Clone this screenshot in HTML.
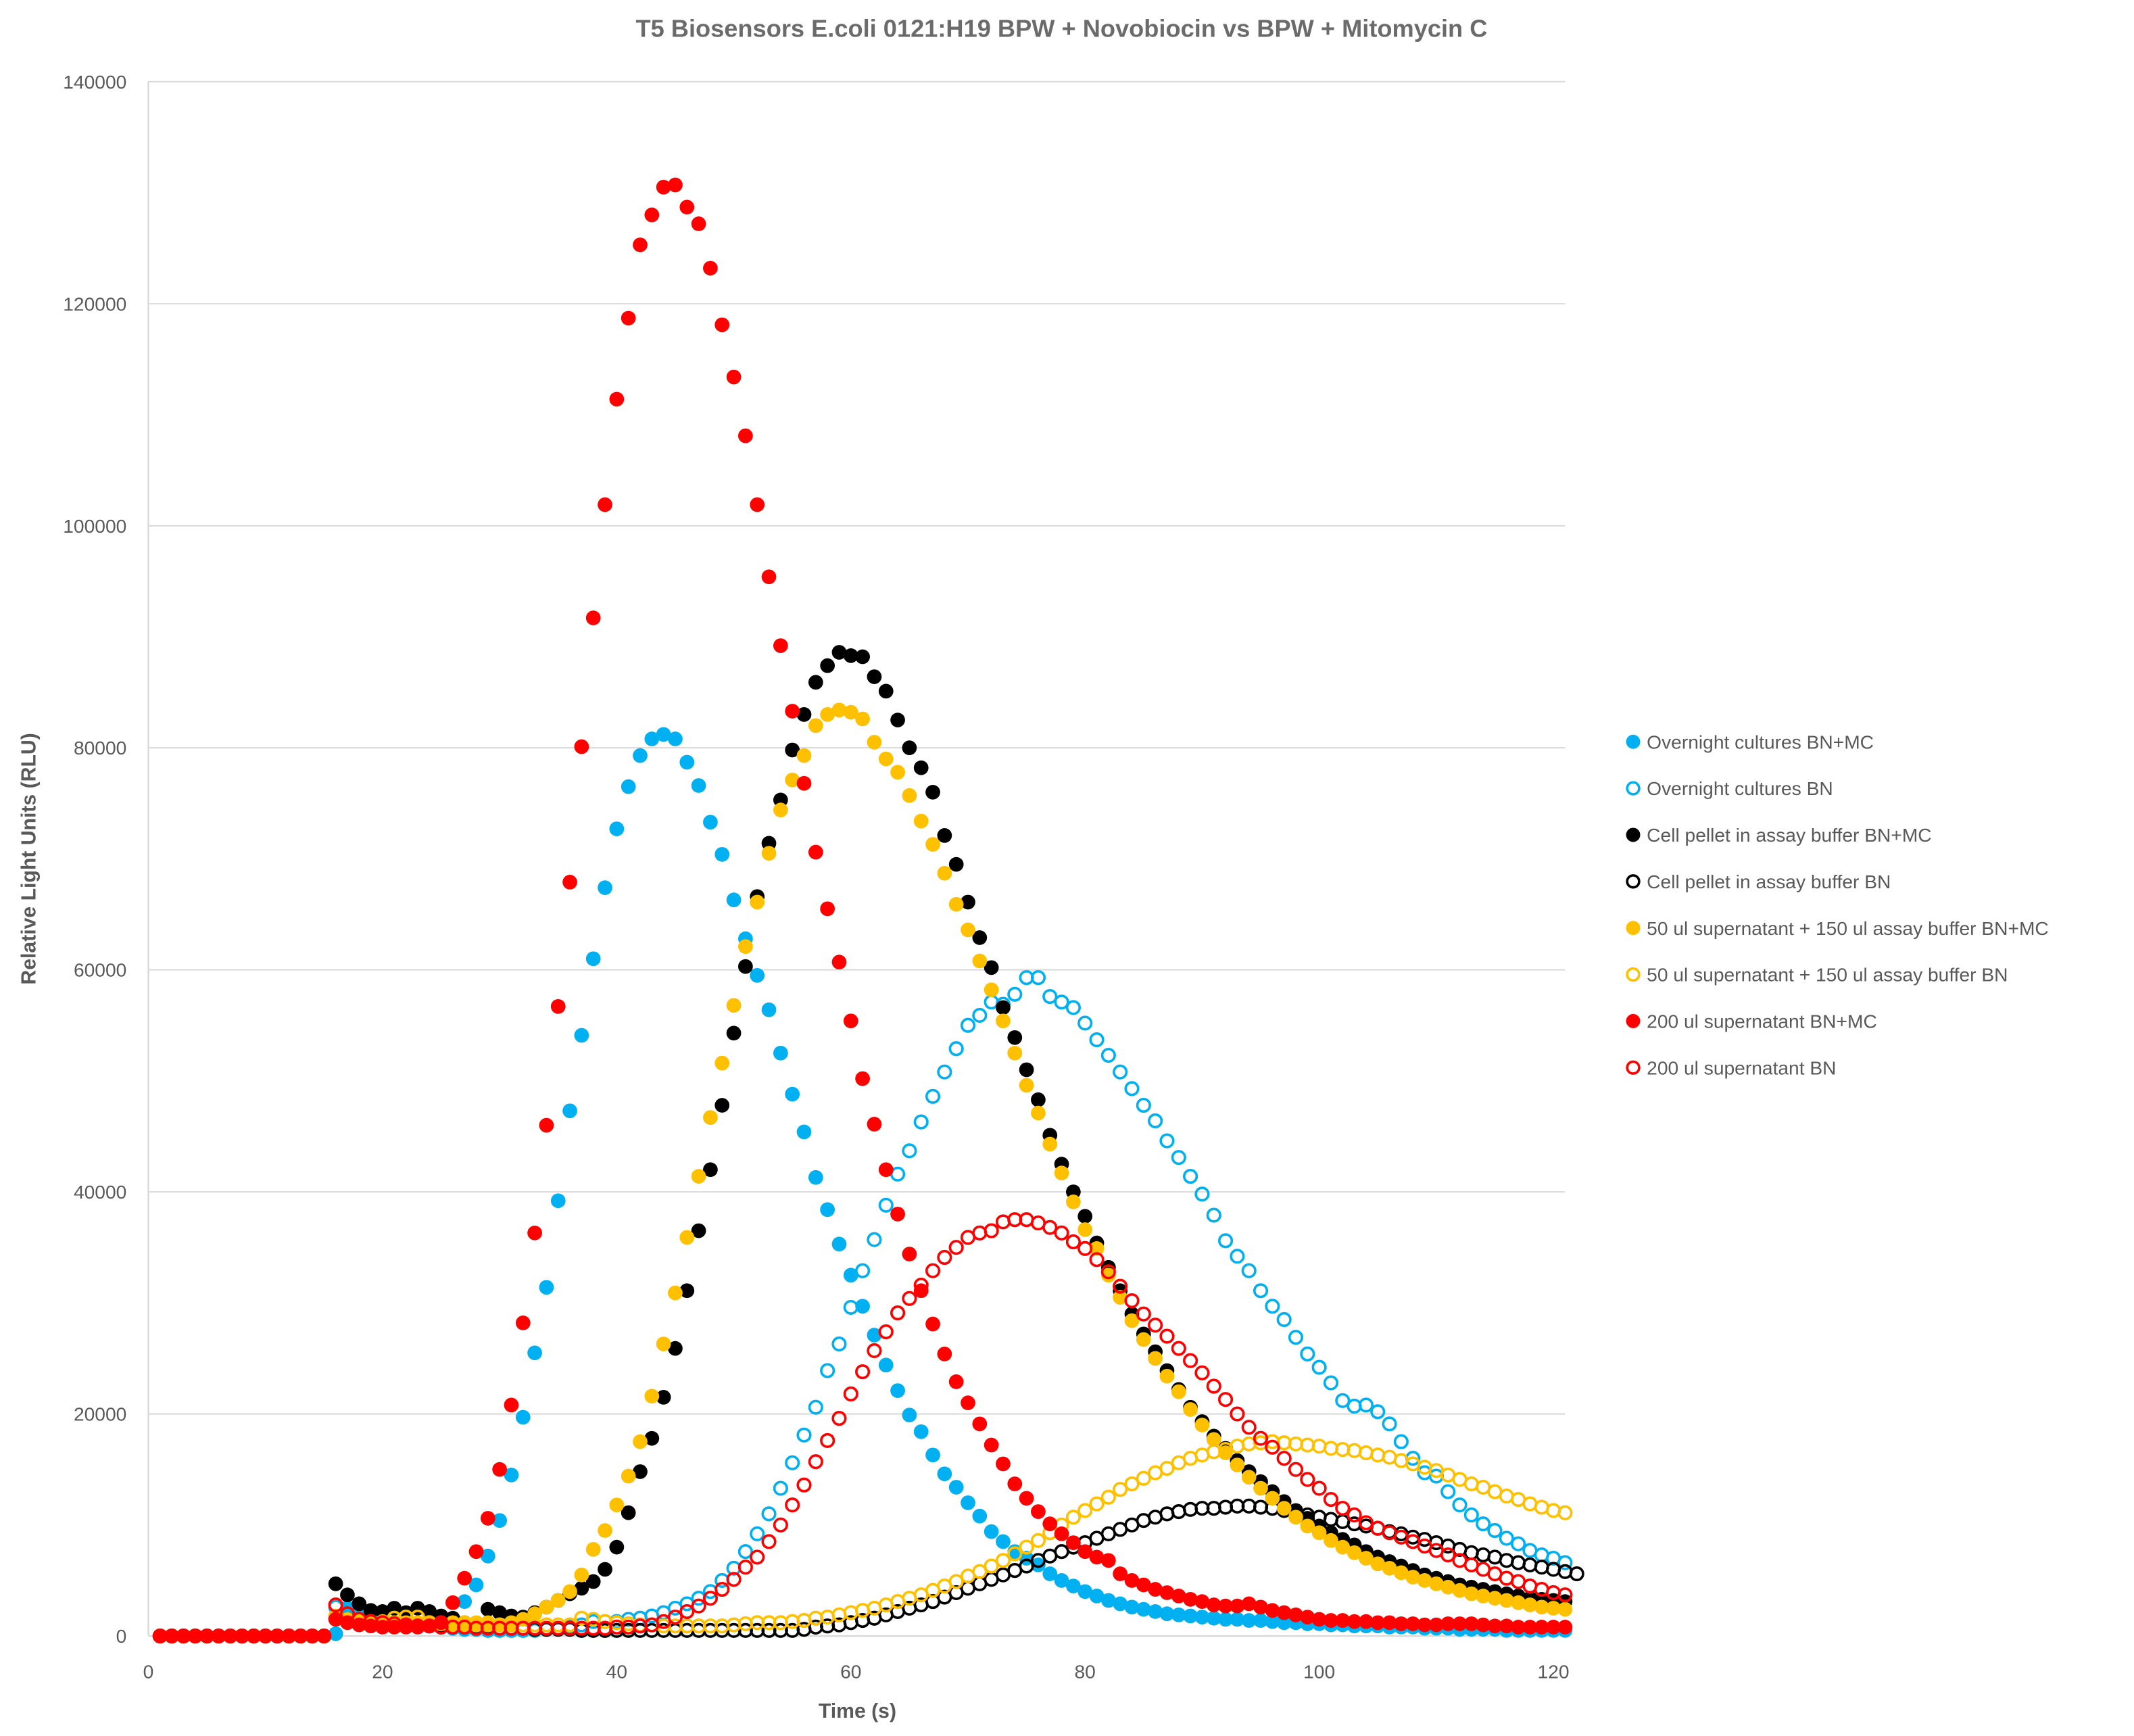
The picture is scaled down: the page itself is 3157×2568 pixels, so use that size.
<!DOCTYPE html>
<html><head><meta charset="utf-8"><style>html,body{margin:0;padding:0;background:#fff}svg{display:block}</style></head>
<body>
<svg id="chart" width="3157" height="2568" viewBox="0 0 1568 1275.5" xmlns="http://www.w3.org/2000/svg" font-family="'Liberation Sans', sans-serif">
<rect width="1568" height="1275.5" fill="#fff"/>
<text x="780" y="27" text-anchor="middle" font-size="18" font-weight="bold" fill="#6b6b6b">T5 Biosensors E.coli 0121:H19 BPW + Novobiocin vs BPW + Mitomycin C</text>
<g id="grid"></g><g id="axes"></g><g id="marks"></g><g id="legend"></g>
<text transform="translate(26,631) rotate(-90)" text-anchor="middle" font-size="15" font-weight="bold" fill="#595959">Relative Light Units (RLU)</text>
<text x="630" y="1262" text-anchor="middle" font-size="15" font-weight="bold" fill="#595959">Time (s)</text>
</svg>
<script>
const yTicks=[0,20000,40000,60000,80000,100000,120000,140000];
const xTicks=[0,20,40,60,80,100,120];
const seriesNames=["Overnight cultures BN+MC","Overnight cultures BN","Cell pellet in assay buffer BN+MC","Cell pellet in assay buffer BN","50 ul supernatant + 150 ul assay buffer BN+MC","50 ul supernatant + 150 ul assay buffer BN","200 ul supernatant BN+MC","200 ul supernatant BN"];
const seriesColors=["#00b0f0","#00b0f0","#000000","#000000","#ffc000","#ffc000","#ff0000","#ff0000"];
const seriesFilled=[true,false,true,false,true,false,true,false];
const Z=[0,0,0,0,0,0,0,0,0,0,0,0,0,0,0];
const blueMC=Z.concat([200,2500,1800,1400,1200,1100,1000,1000,900,900,1500,3100,4600,7200,10400,14500,19700,25500,31400,39200,47300,54100,61000,67400,72700,76500,79300,80800,81200,80800,78700,76600,73300,70400,66300,62800,59500,56400,52500,48800,45400,41300,38400,35300,32500,29700,27100,24400,22100,19900,18400,16300,14600,13400,12000,10800,9400,8500,7600,7000,6400,5600,5000,4500,4000,3600,3200,2900,2600,2400,2200,2000,1900,1800,1700,1600,1500,1500,1400,1400,1300,1200,1200,1100,1100,1000,1000,900,900,900,800,800,800,700,700,700,600,600,600,600,500,500,500,500,500,500]);
const blueBN=Z.concat([2600,1800,1500,1300,1200,1100,1000,900,900,800,700,600,600,500,500,500,500,500,600,700,900,1000,1300,1300,1300,1500,1600,1800,2100,2500,2900,3400,4000,5000,6100,7600,9200,11000,13300,15600,18100,20600,23900,26300,29600,32900,35700,38800,41600,43700,46300,48600,50800,52900,55000,55900,57100,56900,57800,59300,59300,57600,57100,56600,55200,53700,52300,50800,49300,47800,46400,44600,43100,41400,39800,37900,35600,34200,32900,31100,29700,28500,26900,25400,24200,22800,21200,20700,20800,20200,19100,17500,16000,14700,14400,13000,11800,10900,10100,9500,8800,8300,7700,7300,7000,6600]);
const blackMC=Z.concat([4700,3700,2900,2300,2200,2500,2100,2500,2200,1800,1600,1200,1000,2400,2100,1800,1700,2100,2600,3200,3800,4300,4900,6000,8000,11100,14800,17800,21500,25900,31100,36500,42000,47800,54300,60300,66600,71400,75300,79800,83000,85900,87400,88600,88300,88200,86400,85100,82500,80000,78200,76000,72100,69500,66100,62900,60200,56600,53900,51000,48300,45100,42500,40000,37800,35400,33200,31100,29000,27200,25600,23900,22200,20600,19300,18000,16900,15800,14800,13900,13000,12100,11300,10600,9900,9300,8700,8200,7600,7100,6700,6300,5900,5500,5200,4900,4600,4400,4200,4000,3800,3600,3400,3300,3200,3100]);
const blackBN=Z.concat([1600,1500,1400,1300,1200,1200,1100,1100,1000,1000,900,900,800,800,700,700,700,600,600,600,600,500,500,500,500,500,500,500,500,500,500,500,500,500,500,500,500,500,500,500,600,800,900,1000,1200,1400,1600,1900,2200,2500,2800,3100,3500,3900,4300,4700,5100,5500,5900,6300,6800,7200,7600,8000,8400,8800,9200,9600,10000,10400,10700,11000,11200,11400,11500,11500,11600,11700,11700,11600,11500,11300,11100,10900,10700,10500,10300,10100,9900,9700,9400,9200,8900,8700,8400,8100,7800,7500,7300,7100,6800,6600,6400,6200,6000,5800,5600]);
const yelMC=Z.concat([1800,1500,1400,1300,1300,1200,1200,1200,1200,1200,1200,1200,1200,1200,1000,1200,1500,2000,2600,3200,4000,5500,7800,9500,11800,14400,17500,21600,26300,30900,35900,41400,46700,51600,56800,62100,66100,70500,74400,77100,79300,82000,83000,83400,83200,82600,80500,79000,77800,75700,73400,71300,68700,65900,63600,60800,58200,55400,52500,49600,47100,44300,41700,39100,36600,34900,32500,30500,28400,26700,25000,23400,22000,20400,19000,17700,16500,15400,14300,13300,12400,11500,10700,9900,9300,8600,8000,7500,7000,6500,6100,5700,5300,5000,4700,4400,4100,3800,3600,3400,3200,3000,2800,2600,2500,2400]);
const yelBN=Z.concat([1600,1400,1300,1300,1200,1600,1700,1700,1200,1100,1000,1000,1000,1000,1000,1000,1000,1000,1000,1000,1000,1600,1500,1300,1200,1100,1000,1000,900,900,900,900,900,900,1000,1100,1200,1200,1200,1300,1400,1600,1700,1900,2100,2300,2500,2800,3100,3400,3700,4100,4500,4900,5400,5800,6300,6800,7400,8000,8600,9300,10000,10700,11300,11900,12500,13200,13700,14200,14700,15100,15600,16000,16300,16600,16800,17100,17300,17400,17500,17400,17300,17200,17100,16900,16800,16700,16500,16300,16100,15800,15500,15200,14900,14500,14100,13700,13400,13000,12600,12300,11900,11600,11300,11100]);
const redMC=Z.concat([1500,1200,1000,900,800,800,800,800,900,1200,3000,5200,7600,10600,15000,20800,28200,36300,46000,56700,67900,80100,91700,101900,111400,118700,125300,128000,130500,130700,128700,127200,123200,118100,113400,108100,101900,95400,89200,83300,76800,70600,65500,60700,55400,50200,46100,42000,38000,34400,31100,28100,25400,22900,21000,19100,17200,15500,13700,12400,11200,10100,9200,8400,7600,7100,6800,5600,5000,4600,4200,3900,3600,3300,3100,2800,2700,2700,2900,2600,2300,2100,1900,1700,1500,1400,1400,1300,1300,1200,1200,1100,1100,1000,1000,1100,1100,1100,1000,900,900,800,800,800,800,800]);
const redBN=Z.concat([2800,2000,1500,1300,1200,1100,1000,900,900,800,800,800,700,700,700,700,700,700,700,700,700,700,700,700,800,800,900,1000,1300,1700,2200,2700,3400,4200,5100,6200,7100,8500,10000,11800,13600,15700,17600,19600,21800,23800,25700,27400,29100,30400,31600,32900,34100,35000,35900,36300,36500,37300,37500,37500,37200,36800,36300,35500,34900,33900,32800,31500,30200,29000,28000,27000,25900,24800,23700,22500,21300,20000,18800,17800,17000,16000,15000,14100,13300,12300,11500,10900,10200,9700,9300,8900,8500,8100,7700,7300,6800,6400,6000,5600,5200,4900,4500,4200,3900,3700]);
const seriesValues=[blueMC,blueBN,blackMC,blackBN,yelMC,yelBN,redMC,redBN];

const NS="http://www.w3.org/2000/svg";
const L=109,R=1150,T=60,B=1202,XMAX=121,YMAX=140000;
function xs(v){return L+v*(R-L)/XMAX;}
function ys(v){return B-v*(B-T)/YMAX;}
function mk(tag,parent,attrs){const e=document.createElementNS(NS,tag);for(const k in attrs)e.setAttribute(k,attrs[k]);document.getElementById(parent).appendChild(e);return e;}
yTicks.forEach(t=>{
  if(t>0){const g=mk('line','grid',{x1:L,x2:R,y1:ys(t),y2:ys(t),stroke:'#d9d9d9','stroke-width':1});
  
  }
  const tx=mk('text','axes',{x:93,y:ys(t)+5,'text-anchor':'end','font-size':14,fill:'#595959'});
  
  
  tx.textContent=t;
});
const va=mk('line','axes',{x1:L,x2:L,y1:T,y2:B,stroke:'#d9d9d9','stroke-width':1.2});


const ha=mk('line','axes',{x1:L,x2:R,y1:B,y2:B,stroke:'#d9d9d9','stroke-width':1.2});


xTicks.forEach(t=>{
  const tx=mk('text','axes',{x:xs(t),y:1233,'text-anchor':'middle','font-size':14,fill:'#595959'});
  
  
  tx.textContent=t;
});
seriesValues.forEach((vals,si)=>{
  const c=seriesColors[si],f=seriesFilled[si];
  vals.forEach((v,i)=>{
    const p=mk('circle','marks',f?{cx:xs(i+1),cy:ys(v),r:5.4,fill:c}:{cx:xs(i+1),cy:ys(v),r:4.6,fill:'none',stroke:c,'stroke-width':1.8});
    
    
  });
  const ly=545+si*34.2;
  const lm=mk('circle','legend',f?{cx:1200,cy:ly,r:5.2,fill:c}:{cx:1200,cy:ly,r:4.4,fill:'none',stroke:c,'stroke-width':1.8});
  
  
  const lt=mk('text','legend',{x:1210,y:ly+5,'font-size':14,fill:'#595959'});
  
  
  lt.textContent=seriesNames[si];
});
</script>
</body></html>
